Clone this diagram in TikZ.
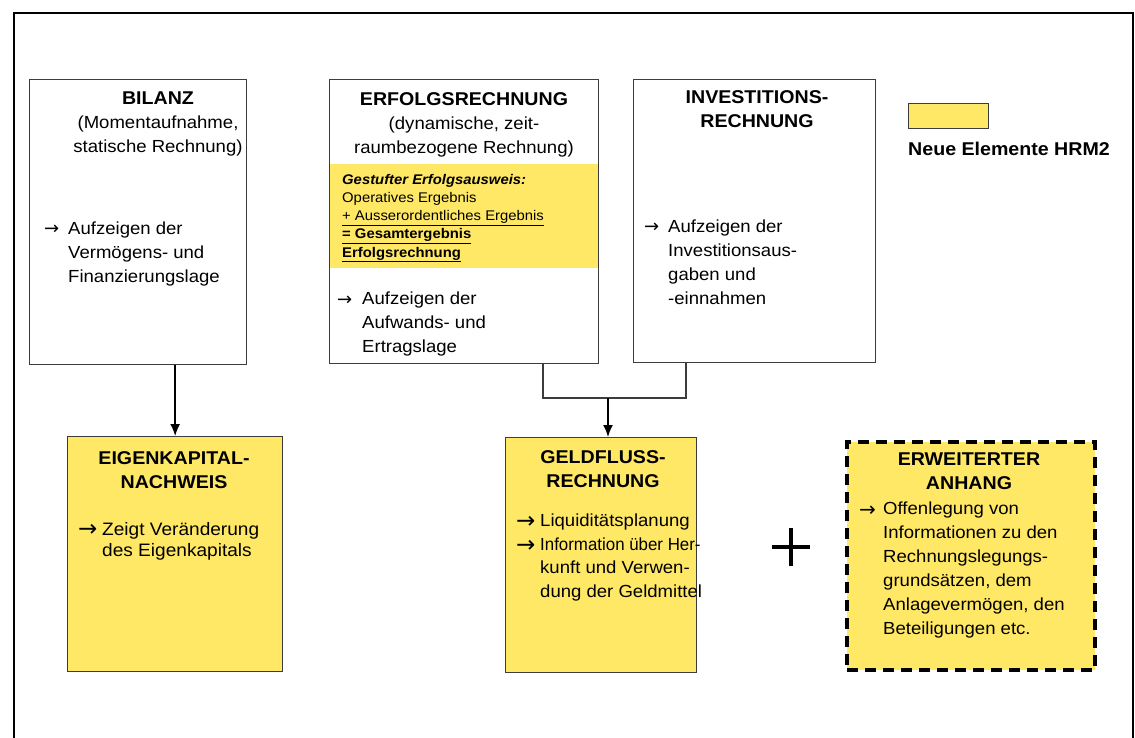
\documentclass[tikz,border=0pt]{standalone}
\usepackage{fontspec}
\setmainfont[FakeStretch=1.06]{Liberation Sans}
\newfontfamily\arrowfont{DejaVu Sans}
\usetikzlibrary{arrows.meta, positioning, calc}

\definecolor{hrmyellow}{RGB}{255,232,102}
\definecolor{boxgray}{RGB}{60,60,60}

\tikzset{
  box/.style={draw=boxgray, line width=1.3pt, anchor=north west, inner sep=0pt},
  newbox/.style={box, fill=hrmyellow},
  headtext/.style={anchor=north, align=center, inner sep=0pt, font=\fontsize{18.5}{24}\selectfont\bfseries},
  bodytext/.style={anchor=north west, align=left, inner sep=0pt, font=\fontsize{17.5}{24}\selectfont},
  bullet/.style={anchor=base west, inner sep=0pt, font=\fontsize{18}{24}\selectfont\arrowfont},
  bigbullet/.style={anchor=base west, inner sep=0pt, font=\fontsize{23}{24}\selectfont\arrowfont},
  bandtext/.style={anchor=north west, align=left, inner sep=0pt, font=\fontsize{14}{18.2}\selectfont}
}

\begin{document}
\begin{tikzpicture}[x=1pt, y=-1pt, >={Latex[length=12pt,width=10pt]}]
    \useasboundingbox (0,0) rectangle (1135,738);

    % Outer frame
    \draw[line width=2pt] (14,738) -- (14,13) -- (1133,13) -- (1133,738);

    % Upper row: Bilanz, Erfolgsrechnung, Investitionsrechnung
    \node[box, minimum width=217, minimum height=285] (bilanz) at (29,79) {};
    \node[anchor=north, align=center, inner sep=0pt, font=\fontsize{17.5}{24}\selectfont] (bilanzhead) at (158,92)
        {{\fontsize{18.5}{24}\selectfont\bfseries BILANZ}\\(Momentaufnahme,\\statische Rechnung)};
    \node[bullet] (bilanzarr) at (44,235) {→};
    \node[bodytext] (bilanztxt) at (68,222) {Aufzeigen der\\Vermögens- und\\Finanzierungslage};

    \node[anchor=north west, fill=hrmyellow, inner sep=0pt, minimum width=269, minimum height=104] (erfband) at (329,164) {};
    \node[box, minimum width=269, minimum height=284] (erfolg) at (329,79) {};
    \node[anchor=north, align=center, inner sep=0pt, font=\fontsize{17.5}{24}\selectfont] (erfolghead) at (464,92)
        {{\fontsize{18.5}{24}\selectfont\bfseries ERFOLGSRECHNUNG}\\(dynamische, zeit-\\raumbezogene Rechnung)};
    \node[bandtext] (erfbandtxt) at (342,174)
        {\textbf{\textit{Gestufter Erfolgsausweis:}}\\Operatives Ergebnis\\\underline{+ Ausserordentliches Ergebnis}\\\underline{\textbf{= Gesamtergebnis}}\\\underline{\textbf{Erfolgsrechnung}}};
    \node[bullet] (erfolgarr) at (337,305) {→};
    \node[bodytext] (erfolgtxt) at (362,292) {Aufzeigen der\\Aufwands- und\\Ertragslage};

    \node[box, minimum width=242, minimum height=283] (invest) at (633,79) {};
    \node[headtext] (investhead) at (757,90) {INVESTITIONS-\\RECHNUNG};
    \node[bullet] (investarr) at (644,233) {→};
    \node[bodytext] (investtxt) at (668,220) {Aufzeigen der\\Investitionsaus-\\gaben und\\-einnahmen};

    % Legend
    \node[anchor=north west, draw=boxgray, line width=1.2pt, fill=hrmyellow, inner sep=0pt, minimum width=80, minimum height=25] (legendbox) at (908,103) {};
    \node[anchor=north west, inner sep=0pt, font=\fontsize{18.5}{24}\selectfont\bfseries] (legendtxt) at (908,142) {Neue Elemente HRM2};

    % Lower row: new elements
    \node[newbox, minimum width=215, minimum height=235] (eigen) at (67,436) {};
    \node[headtext] (eigenhead) at (174,451) {EIGENKAPITAL-\\NACHWEIS};
    \node[bigbullet] (eigenarr) at (78,536.5) {→};
    \node[bodytext, font=\fontsize{18}{21}\selectfont] (eigentxt) at (102,522) {Zeigt Veränderung\\des Eigenkapitals};

    \node[newbox, minimum width=191, minimum height=235] (geld) at (505,437) {};
    \node[headtext] (geldhead) at (603,450) {GELDFLUSS-\\RECHNUNG};
    \node[bigbullet] (geldarra) at (516,528.5) {→};
    \node[bigbullet] (geldarrb) at (516,552) {→};
    \node[bodytext, font=\fontsize{17.5}{23.5}\selectfont] (geldtxt) at (540,514)
        {Liquiditätsplanung\\\scalebox{0.91}[1]{Information über Her-}\\kunft und Verwen-\\dung der Geldmittel};

    \node[newbox, dashed, draw=black, line width=4pt, dash pattern=on 11pt off 7pt, minimum width=248, minimum height=228] (anhang) at (845,440) {};
    \node[headtext] (anhanghead) at (969,453) {ERWEITERTER\\ANHANG};
    \node[bullet, font=\fontsize{20}{24}\selectfont\arrowfont] (anhangarr) at (859,516) {→};
    \node[bodytext] (anhangtxt) at (883,502) {Offenlegung von\\Informationen zu den\\Rechnungslegungs-\\grundsätzen, dem\\Anlagevermögen, den\\Beteiligungen etc.};

    % Plus sign
    \draw[line width=4.5pt] (772,547) -- (810,547);
    \draw[line width=4.5pt] (791,528) -- (791,566);

    % Connectors
    \draw[->, line width=1.6pt] (bilanz.south -| eigen.north) -- (eigen.north);
    \coordinate (erfout) at (543,363);
    \coordinate (invout) at (686,362);
    \coordinate (join) at (608,398);
    \draw[boxgray, line width=1.2pt] (erfout) |- (join) -| (invout);
    \draw[->, line width=1.6pt] (join) -- (join |- geld.north);
\end{tikzpicture}
\end{document}
